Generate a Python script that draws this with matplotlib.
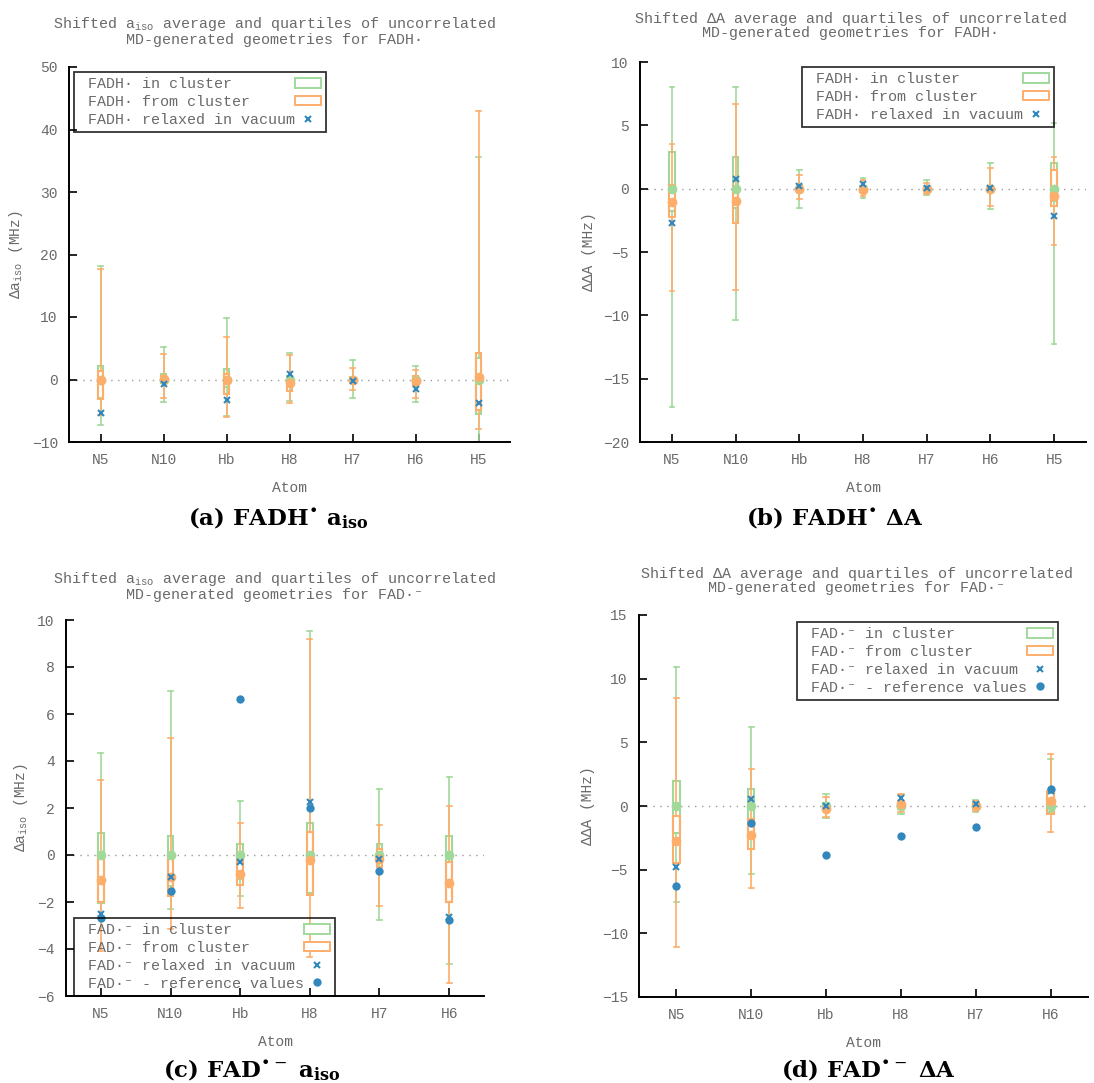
# Candlestick-style summary plots (gnuplot look) for FADH· and FAD·⁻ hyperfine shifts
import numpy as np
import matplotlib
matplotlib.use('Agg')
import matplotlib.pyplot as plt
from matplotlib.patches import Rectangle, Patch
from matplotlib.lines import Line2D

plt.rcParams['font.family'] = ['Liberation Mono', 'DejaVu Sans Mono']
plt.rcParams['mathtext.fontset'] = 'custom'
plt.rcParams['mathtext.rm'] = 'Liberation Mono'
plt.rcParams['mathtext.it'] = 'Liberation Mono'
plt.rcParams['mathtext.bf'] = 'Liberation Mono:bold'

# ── data ──
atoms_fadh = ['N5', 'N10', 'Hb', 'H8', 'H7', 'H6', 'H5']
atoms_fad = ['N5', 'N10', 'Hb', 'H8', 'H7', 'H6']

# (a) FADH· a_iso
a_fadh_in_lo = [-7.3, -3.6, -5.8, -3.5, -2.9, -3.6, -10.3]
a_fadh_in_q1 = [-2.9, -0.6, -1.2, -0.5, -0.4, -0.4, -5.5]
a_fadh_in_q3 = [2.2, 0.9, 1.7, 0.6, 0.4, 0.4, 3.4]
a_fadh_in_hi = [18.2, 5.2, 9.8, 4.3, 3.2, 2.1, 35.6]
a_fadh_in_mean = [0.0, 0.0, 0.0, 0.0, 0.0, 0.0, 0.0]
a_fadh_fr_lo = [-5.6, -2.9, -6.0, -3.8, -1.7, -2.9, -7.9]
a_fadh_fr_q1 = [-3.1, -0.5, -2.3, -1.9, -0.5, -1.0, -4.9]
a_fadh_fr_q3 = [1.4, 0.5, 0.9, 0.3, 0.3, 0.5, 4.2]
a_fadh_fr_hi = [17.7, 4.1, 6.8, 3.9, 1.9, 1.5, 43.0]
a_fadh_fr_mean = [-0.1, 0.1, -0.1, -0.5, -0.1, -0.3, 0.4]
a_fadh_vac = [-5.3, -0.75, -3.2, 0.96, -0.27, -1.5, -3.7]

# (b) FADH· ΔA
d_fadh_in_lo = [-17.2, -10.4, -1.55, -0.71, -0.5, -1.58, -12.3]
d_fadh_in_q1 = [-1.8, -1.5, -0.3, -0.2, -0.15, -0.2, -1.0]
d_fadh_in_q3 = [2.9, 2.5, 0.3, 0.2, 0.15, 0.2, 2.05]
d_fadh_in_hi = [8.05, 8.05, 1.45, 0.87, 0.71, 2.05, 5.2]
d_fadh_in_mean = [0.0, 0.0, 0.0, 0.0, 0.0, 0.0, 0.0]
d_fadh_fr_lo = [-8.1, -8.0, -0.84, -0.6, -0.4, -1.37, -4.44]
d_fadh_fr_q1 = [-2.2, -2.7, -0.3, -0.3, -0.15, -0.2, -1.4]
d_fadh_fr_q3 = [0.3, 0.2, 0.2, 0.15, 0.15, 0.2, 1.5]
d_fadh_fr_hi = [3.55, 6.66, 1.08, 0.66, 0.45, 1.66, 2.5]
d_fadh_fr_mean = [-1.03, -0.97, -0.05, -0.08, 0.0, 0.0, -0.6]
d_fadh_vac = [-2.68, 0.79, 0.2, 0.34, 0.08, 0.08, -2.16]

# (c) FAD·⁻ a_iso
a_fad_in_lo = [-2.6, -2.3, -1.73, -1.7, -2.78, -4.64]
a_fad_in_q1 = [-2.03, -1.3, -1.0, -1.6, -0.3, -2.0]
a_fad_in_q3 = [0.92, 0.81, 0.48, 1.35, 0.45, 0.81]
a_fad_in_hi = [4.35, 7.0, 2.31, 9.55, 2.79, 3.3]
a_fad_in_mean = [0.0, 0.0, 0.0, 0.0, 0.0, 0.0]
a_fad_fr_lo = [-4.09, -3.17, -2.26, -4.36, -2.17, -5.46]
a_fad_fr_q1 = [-2.0, -1.76, -1.26, -1.72, -0.5, -2.0]
a_fad_fr_q3 = [-0.1, -0.18, 0.1, 0.98, 0.27, -0.31]
a_fad_fr_hi = [3.18, 4.98, 1.38, 9.2, 1.28, 2.1]
a_fad_fr_mean = [-1.05, -0.94, -0.81, -0.23, -0.18, -1.19]
a_fad_vac = [-2.5, -0.94, -0.31, 2.24, -0.15, -2.64]
a_fad_ref = [-2.7, -1.55, 6.64, 2.0, -0.68, -2.78]

# (d) FAD·⁻ ΔA
d_fad_in_lo = [-7.55, -5.34, -0.97, -0.6, -0.5, -0.6]
d_fad_in_q1 = [-2.1, -2.5, -0.2, -0.2, -0.2, -0.5]
d_fad_in_q3 = [1.97, 1.3, 0.2, 0.2, 0.2, 1.0]
d_fad_in_hi = [10.92, 6.18, 0.97, 0.85, 0.5, 3.66]
d_fad_in_mean = [0.0, 0.0, 0.0, 0.0, 0.0, 0.0]
d_fad_fr_lo = [-11.1, -6.47, -0.87, -0.45, -0.4, -2.03]
d_fad_fr_q1 = [-4.5, -3.37, -0.3, -0.2, -0.2, -0.6]
d_fad_fr_q3 = [-0.8, -1.0, 0.1, 0.4, 0.15, 1.2]
d_fad_fr_hi = [8.5, 2.9, 0.71, 0.97, 0.4, 4.08]
d_fad_fr_mean = [-2.76, -2.26, -0.26, 0.18, -0.03, 0.39]
d_fad_vac = [-4.8, 0.53, 0.0, 0.6, 0.18, 1.15]
d_fad_ref = [-6.3, -1.37, -3.84, -2.37, -1.63, 1.32]

# ── style ──
GREEN = '#a1d99b'
ORANGE = '#fdae6b'
BLUE = '#3288bd'
TXT = '#6a6a6a'
W, H = 1094, 1083


def candles(ax, lo, q1, q3, hi, color):
    x = np.arange(len(lo))
    bw, cw = 0.085, 0.035
    for xi, a, b, c, d in zip(x, lo, q1, q3, hi):
        ax.plot([xi, xi], [a, b], color=color, lw=1.2, zorder=2)
        ax.plot([xi, xi], [c, d], color=color, lw=1.2, zorder=2)
        ax.plot([xi - cw, xi + cw], [a, a], color=color, lw=1.2, zorder=2)
        ax.plot([xi - cw, xi + cw], [d, d], color=color, lw=1.2, zorder=2)
        ax.add_patch(Rectangle((xi - bw / 2, b), bw, c - b, facecolor='none',
                               edgecolor=color, lw=1.5, zorder=2))


def panel(rect, atoms, ylim, ystep, series, vac, ref, ylabel):
    ax = fig.add_axes([rect[0] / W, 1 - rect[3] / H, (rect[2] - rect[0]) / W,
                       (rect[3] - rect[1]) / H])
    x = np.arange(len(atoms))
    ax.axhline(0, color='#999999', lw=1.0, ls=(0, (1, 4)), zorder=1)
    in_lo, in_q1, in_q3, in_hi, in_mean, fr_lo, fr_q1, fr_q3, fr_hi, fr_mean = series
    candles(ax, in_lo, in_q1, in_q3, in_hi, GREEN)
    candles(ax, fr_lo, fr_q1, fr_q3, fr_hi, ORANGE)
    ax.plot(x, in_mean, 'o', color=GREEN, ms=7, mec='none', zorder=3)
    ax.plot(x, fr_mean, 'o', color=ORANGE, ms=7, mec='none', zorder=3)
    ax.plot(x, vac, 'x', color=BLUE, ms=5, mew=1.5, zorder=4)
    if ref is not None:
        ax.plot(x, ref, 'o', color=BLUE, ms=6, mec='none', zorder=4)
    ax.set_xlim(-0.5, len(atoms) - 0.5)
    ax.set_ylim(*ylim)
    ax.set_yticks(np.arange(ylim[0], ylim[1] + 0.1, ystep))
    ax.set_xticks(x)
    ax.set_xticklabels(atoms)
    ax.tick_params(direction='in', length=6, width=1.2, colors='black',
                   labelcolor=TXT, labelsize=10.5, pad=8)
    for s in ['top', 'right']:
        ax.spines[s].set_visible(False)
    for s in ['left', 'bottom']:
        ax.spines[s].set_linewidth(1.4)
    ax.set_ylabel(ylabel, color=TXT, fontsize=10.5, labelpad=5)
    ax.set_xlabel('Atom', color=TXT, fontsize=10.5, labelpad=10)
    return ax


def add_legend(ax, labels, has_ref, x0, y0):
    handles = [Patch(facecolor='white', edgecolor=GREEN, lw=1.4),
               Patch(facecolor='white', edgecolor=ORANGE, lw=1.4),
               Line2D([], [], ls='none', marker='x', color=BLUE, ms=5, mew=1.5)]
    if has_ref:
        handles.append(Line2D([], [], ls='none', marker='o', color=BLUE, ms=6, mec='none'))
    # gnuplot keys keep text left-aligned with the sample on the right
    n = max(len(s) for s in labels)
    padded = [' ' + s.ljust(n) for s in labels]
    leg = ax.legend(handles, padded, loc='upper left', markerfirst=False,
                    bbox_to_anchor=(x0 / W, 1 - y0 / H), bbox_transform=fig.transFigure,
                    borderaxespad=0, fancybox=False, facecolor='none', edgecolor='black',
                    fontsize=10.8, labelspacing=0.25, handlelength=1.7, handleheight=0.6,
                    handletextpad=0.0, borderpad=0.35, labelcolor=TXT)
    leg.get_frame().set_linewidth(1.3)


fig = plt.figure(figsize=(W / 100, H / 100), dpi=100)

ax_a = panel((69, 67, 510, 442), atoms_fadh, (-10, 50), 10,
             (a_fadh_in_lo, a_fadh_in_q1, a_fadh_in_q3, a_fadh_in_hi, a_fadh_in_mean,
              a_fadh_fr_lo, a_fadh_fr_q1, a_fadh_fr_q3, a_fadh_fr_hi, a_fadh_fr_mean),
             a_fadh_vac, None, 'Δa$_{\\mathrm{iso}}$ (MHz)')
ax_b = panel((640, 62, 1086, 442), atoms_fadh, (-20, 10), 5,
             (d_fadh_in_lo, d_fadh_in_q1, d_fadh_in_q3, d_fadh_in_hi, d_fadh_in_mean,
              d_fadh_fr_lo, d_fadh_fr_q1, d_fadh_fr_q3, d_fadh_fr_hi, d_fadh_fr_mean),
             d_fadh_vac, None, 'ΔΔA (MHz)')
ax_c = panel((66, 620, 484, 996), atoms_fad, (-6, 10), 2,
             (a_fad_in_lo, a_fad_in_q1, a_fad_in_q3, a_fad_in_hi, a_fad_in_mean,
              a_fad_fr_lo, a_fad_fr_q1, a_fad_fr_q3, a_fad_fr_hi, a_fad_fr_mean),
             a_fad_vac, a_fad_ref, 'Δa$_{\\mathrm{iso}}$ (MHz)')
ax_d = panel((639, 615, 1088, 997), atoms_fad, (-15, 15), 5,
             (d_fad_in_lo, d_fad_in_q1, d_fad_in_q3, d_fad_in_hi, d_fad_in_mean,
              d_fad_fr_lo, d_fad_fr_q1, d_fad_fr_q3, d_fad_fr_hi, d_fad_fr_mean),
             d_fad_vac, d_fad_ref, 'ΔΔA (MHz)')

fadh_labels = ['FADH· in cluster', 'FADH· from cluster', 'FADH· relaxed in vacuum']
fad_labels = ['FAD·⁻ in cluster', 'FAD·⁻ from cluster', 'FAD·⁻ relaxed in vacuum',
              'FAD·⁻ - reference values']
add_legend(ax_a, fadh_labels, False, 74, 72)
add_legend(ax_b, fadh_labels, False, 802, 67)
add_legend(ax_c, fad_labels, True, 74, 918)
add_legend(ax_d, fad_labels, True, 797, 622)

# ── titles ──
titles = [
    (275, 31, 'Shifted a$_{\\mathrm{iso}}$ average and quartiles of uncorrelated\nMD-generated geometries for FADH·'),
    (851, 26, 'Shifted ΔA average and quartiles of uncorrelated\nMD-generated geometries for FADH·'),
    (275, 586, 'Shifted a$_{\\mathrm{iso}}$ average and quartiles of uncorrelated\nMD-generated geometries for FAD·⁻'),
    (857, 581, 'Shifted ΔA average and quartiles of uncorrelated\nMD-generated geometries for FAD·⁻'),
]
for tx, ty, t in titles:
    fig.text(tx / W, 1 - ty / H, t, ha='center', va='center', fontsize=10.8,
             color=TXT, linespacing=1.0)

# ── captions ──
captions = [
    (278, 518, '(a) FADH$^{\u2022}$ a$_{\\mathbf{iso}}$'),
    (835, 518, '(b) FADH$^{\u2022}$ ΔA'),
    (252, 1070, '(c) FAD$^{\u2022-}$ a$_{\\mathbf{iso}}$'),
    (868, 1070, '(d) FAD$^{\u2022-}$ ΔA'),
]
for tx, ty, t in captions:
    txt = fig.text(tx / W, 1 - ty / H, t, ha='center', va='center', fontsize=16.5,
                   family='DejaVu Serif', fontweight='bold', color='black')
    txt.set_math_fontfamily('dejavuserif')

plt.savefig('out.png', dpi=100, facecolor='white')
plt.close()
